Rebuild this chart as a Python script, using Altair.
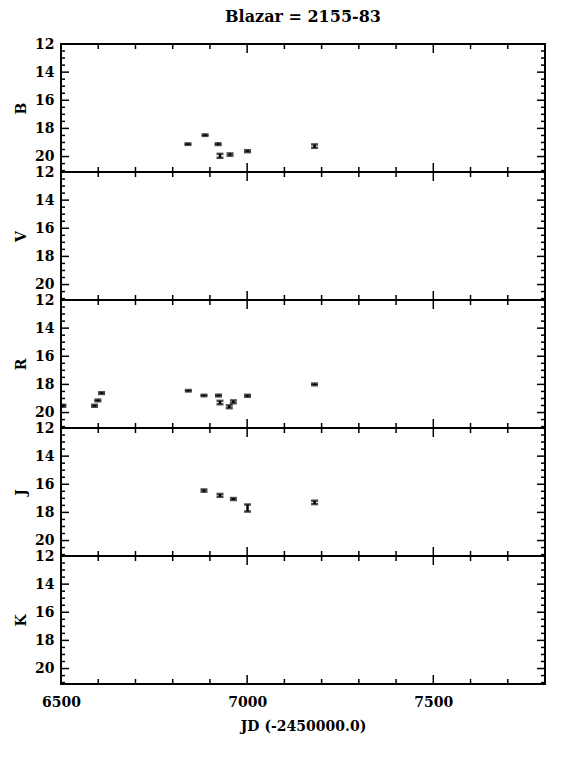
import altair as alt
import pandas as pd

FONT = "DejaVu Serif"

BANDS = ["B", "V", "R", "J", "K"]

B_jd = [6841, 6887, 6922, 6927, 6954, 7001, 7181]
B_mag = [19.12, 18.48, 19.12, 19.95, 19.86, 19.62, 19.26]
B_err = [0.05, 0.05, 0.06, 0.14, 0.08, 0.07, 0.12]

V_jd = []
V_mag = []
V_err = []

R_jd = [6505, 6590, 6599, 6609, 6842, 6884, 6923, 6927, 6952, 6963, 7001, 7181]
R_mag = [19.52, 19.52, 19.14, 18.62, 18.45, 18.79, 18.79, 19.29, 19.59, 19.24, 18.81, 18.00]
R_err = [0.07, 0.07, 0.06, 0.06, 0.05, 0.05, 0.06, 0.12, 0.10, 0.10, 0.07, 0.06]

J_jd = [6884, 6927, 6963, 7001, 7181]
J_mag = [16.45, 16.79, 17.05, 17.69, 17.29]
J_err = [0.08, 0.10, 0.07, 0.25, 0.12]

K_jd = []
K_mag = []
K_err = []

DATA = {
    "B": (B_jd, B_mag, B_err),
    "V": (V_jd, V_mag, V_err),
    "R": (R_jd, R_mag, R_err),
    "J": (J_jd, J_mag, J_err),
    "K": (K_jd, K_mag, K_err),
}

X_DOMAIN = [6500, 7800]
Y_DOMAIN = [12, 21.1]
X_LABELS = [6500, 7000, 7500]
Y_LABELS = [12, 14, 16, 18, 20]
X_MAJOR = [7000, 7500]
X_MINOR = [6600, 6700, 6800, 6900, 7100, 7200, 7300, 7400, 7600, 7700]
Y_MAJOR = [12, 14, 16, 18, 20]
Y_MINOR = [12.5, 13, 13.5, 14.5, 15, 15.5, 16.5, 17, 17.5, 18.5, 19, 19.5, 20.5, 21]

W = 484
H = 128


def xs():
    return alt.Scale(domain=X_DOMAIN, nice=False, zero=False)


def ys():
    return alt.Scale(domain=Y_DOMAIN, reverse=True, nice=False, zero=False)


def panel(band, last, first):
    jd, mag, err = DATA[band]
    layers = []

    if last:
        x_axis = alt.Axis(values=X_LABELS, ticks=False, domain=False, grid=False,
                          labelFlush=False, labelPadding=11, title="JD (-2450000.0)",
                          titlePadding=10, format="d")
    else:
        x_axis = alt.Axis(values=X_LABELS, ticks=False, domain=False, grid=False,
                          labels=False, title=None, minExtent=0, maxExtent=0,
                          labelPadding=0, offset=0)
    y_axis = alt.Axis(values=Y_LABELS, ticks=False, domain=False, grid=False,
                      labelFlush=False, labelOverlap=False, labelPadding=7,
                      title=band, titlePadding=6, format="d")

    def X(f):
        return alt.X(f, scale=xs(), axis=x_axis)

    def Y(f):
        return alt.Y(f, scale=ys(), axis=y_axis)

    def xticks(vals, length):
        d = pd.DataFrame({"t": vals})
        top = alt.Chart(d).mark_rule(color="black", strokeWidth=1.5).encode(
            x=X("t:Q"), y=alt.value(0), y2=alt.value(length))
        bot = alt.Chart(d).mark_rule(color="black", strokeWidth=1.5).encode(
            x=X("t:Q"), y=alt.value(H), y2=alt.value(H - length))
        return [top, bot]

    def yticks(vals, length):
        d = pd.DataFrame({"t": vals})
        left = alt.Chart(d).mark_rule(color="black", strokeWidth=1.5).encode(
            y=Y("t:Q"), x=alt.value(0), x2=alt.value(length))
        right = alt.Chart(d).mark_rule(color="black", strokeWidth=1.5).encode(
            y=Y("t:Q"), x=alt.value(W), x2=alt.value(W - length))
        return [left, right]

    layers += xticks(X_MAJOR, 9) + xticks(X_MINOR, 5)
    layers += yticks(Y_MAJOR, 8) + yticks(Y_MINOR, 4)

    if len(jd) > 0:
        df = pd.DataFrame({
            "jd": jd,
            "mag": mag,
            "lo": [m - e for m, e in zip(mag, err)],
            "hi": [m + e for m, e in zip(mag, err)],
        })
        bar = alt.Chart(df).mark_rule(color="black", strokeWidth=2.5, clip=True).encode(
            x=X("jd:Q"), y=Y("lo:Q"), y2="hi:Q")
        cap_lo = alt.Chart(df).mark_tick(color="black", orient="horizontal", size=7,
                                         thickness=2.5, clip=True).encode(
            x=X("jd:Q"), y=Y("lo:Q"))
        cap_hi = alt.Chart(df).mark_tick(color="black", orient="horizontal", size=7,
                                         thickness=2.5, clip=True).encode(
            x=X("jd:Q"), y=Y("hi:Q"))
        layers += [bar, cap_lo, cap_hi]

    props = dict(width=W, height=H)
    if first:
        props["title"] = alt.TitleParams("Blazar = 2155-83", font=FONT, fontSize=16,
                                         fontWeight="bold", anchor="middle", offset=12)
    return alt.layer(*layers).properties(**props)


panels = [panel(b, i == len(BANDS) - 1, i == 0) for i, b in enumerate(BANDS)]

chart = alt.vconcat(
    *panels, spacing=0, bounds="flush", background="white",
    padding={"left": 5, "top": 0, "right": 5, "bottom": 5},
).configure_view(
    stroke="black", strokeWidth=2
).configure_axis(
    labelFont=FONT, labelFontSize=14, labelFontWeight="bold", labelColor="black",
    titleFont=FONT, titleFontSize=14, titleFontWeight="bold", titleColor="black",
)

chart.save("out.html", embed_options={"renderer": "svg", "actions": False})
